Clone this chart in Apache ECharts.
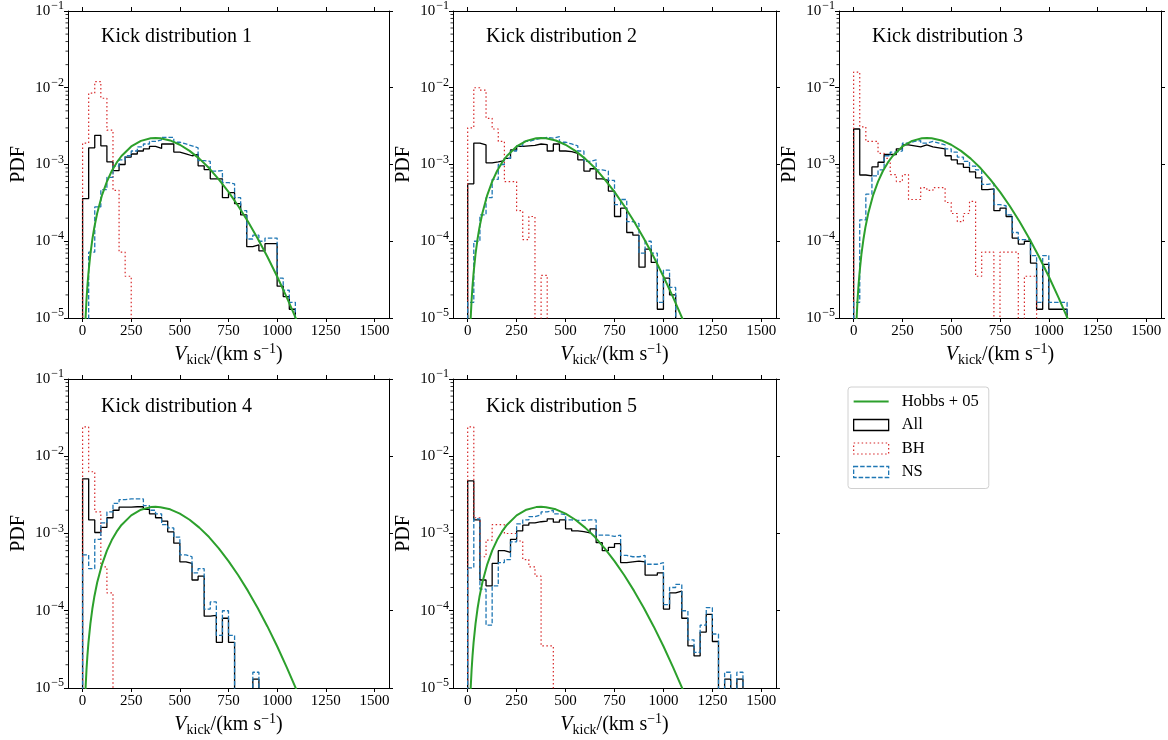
<!DOCTYPE html>
<html>
<head>
<meta charset="utf-8">
<script src="https://cdn.jsdelivr.net/npm/echarts@6/dist/echarts.min.js"></script>
<style>
  html, body { margin: 0; background: #fff; }
  #chart { width: 1168px; height: 740px; }
</style>
</head>
<body>
<div id="chart"></div>
<script>
// ---- data (histograms: PDF per 31.25 km/s bin, starting at 0) ----
const binWidth = 31.25;
const xTicks = [0, 250, 500, 750, 1000, 1250, 1500];
const titles = ['Kick distribution 1', 'Kick distribution 2', 'Kick distribution 3', 'Kick distribution 4', 'Kick distribution 5'];

const all1 = [3.6e-4, 1.65e-3, 2.4e-3, 1.75e-3, 1.08e-3, 8.3e-4, 1.0e-3, 1.25e-3, 1.37e-3, 1.5e-3, 1.6e-3, 1.72e-3, 1.62e-3, 1.85e-3, 1.85e-3, 1.45e-3, 1.38e-3, 1.3e-3, 1.35e-3, 9.6e-4, 8.6e-4, 6.5e-4, 6.5e-4, 3.7e-4, 4.3e-4, 3.1e-4, 2.2e-4, 8.5e-5, 9e-5, 7.5e-5, 9.3e-5, 9.3e-5, 2.6e-5, 1.9e-5, 1.3e-5];
const ns1 = [0, 7.2e-5, 2.8e-4, 4.7e-4, 6.8e-4, 9.5e-4, 1.15e-3, 1.3e-3, 1.5e-3, 1.7e-3, 1.85e-3, 2.0e-3, 2.1e-3, 2.25e-3, 2.25e-3, 1.95e-3, 1.85e-3, 1.75e-3, 1.65e-3, 1.12e-3, 1.1e-3, 8.2e-4, 8.3e-4, 5.8e-4, 5.6e-4, 3.7e-4, 2.5e-4, 1.07e-4, 1.2e-4, 1.0e-4, 1.1e-4, 1.1e-4, 3.3e-5, 2.3e-5, 1.6e-5];
const bh1 = [1.9e-3, 8.5e-3, 1.2e-2, 7.3e-3, 2.8e-3, 4.6e-4, 7.2e-5, 3.5e-5];

const all2 = [5.6e-4, 1.9e-3, 1.8e-3, 1.05e-3, 1.08e-3, 1.12e-3, 1.2e-3, 1.55e-3, 1.72e-3, 1.75e-3, 1.78e-3, 1.85e-3, 1.82e-3, 1.5e-3, 1.85e-3, 1.5e-3, 1.47e-3, 1.4e-3, 1.15e-3, 8.2e-4, 8.8e-4, 6.5e-4, 6.2e-4, 4.5e-4, 2.1e-4, 2.7e-4, 1.3e-4, 1.2e-4, 4.6e-5, 7.9e-5, 5.3e-5, 1.3e-5, 3.3e-5, 2.0e-5];
const ns2 = [1.6e-5, 1.0e-4, 2.2e-4, 3.7e-4, 6.4e-4, 1.0e-3, 1.2e-3, 1.5e-3, 1.75e-3, 2.0e-3, 2.1e-3, 2.2e-3, 2.25e-3, 2.2e-3, 2.3e-3, 1.95e-3, 1.85e-3, 1.75e-3, 1.5e-3, 1.1e-3, 1.15e-3, 8.5e-4, 8.2e-4, 6.2e-4, 3.0e-4, 3.5e-4, 1.8e-4, 1.7e-4, 7e-5, 1.0e-4, 7e-5, 1.6e-5, 4.2e-5, 2.5e-5];
const bh2 = [3.0e-3, 1.0e-2, 9.3e-3, 4.0e-3, 2.9e-3, 2.0e-3, 6.0e-4, 6.0e-4, 2.5e-4, 1.05e-4, 2.1e-4, 0, 3.6e-5];

const all3 = [2.9e-3, 7.3e-4, 7.1e-4, 9.3e-4, 1.07e-3, 1.35e-3, 1.35e-3, 1.6e-3, 1.8e-3, 1.75e-3, 1.7e-3, 1.8e-3, 1.7e-3, 1.65e-3, 1.6e-3, 1.3e-3, 1.15e-3, 1.02e-3, 9.2e-4, 8.0e-4, 6.7e-4, 4.7e-4, 4.8e-4, 2.5e-4, 2.7e-4, 2.1e-4, 1.1e-4, 9.2e-5, 1.0e-4, 5.2e-5, 1.3e-5, 5.0e-5, 1.3e-5, 1.3e-5, 1.3e-5];
const ns3 = [1.6e-5, 1.9e-4, 4.1e-4, 7.1e-4, 8.5e-4, 1.3e-3, 1.45e-3, 1.5e-3, 1.9e-3, 2.0e-3, 2.05e-3, 1.9e-3, 2.0e-3, 1.9e-3, 1.8e-3, 1.6e-3, 1.45e-3, 1.25e-3, 1.1e-3, 9.5e-4, 8.5e-4, 5.5e-4, 5.7e-4, 3.0e-4, 2.9e-4, 2.2e-4, 1.3e-4, 1.05e-4, 1.05e-4, 6.5e-5, 1.6e-5, 6.5e-5, 1.6e-5, 1.6e-5, 1.6e-5];
const bh3 = [1.6e-2, 3.1e-3, 2.0e-3, 2.0e-3, 1.4e-3, 1.2e-3, 7.4e-4, 6.0e-4, 7.4e-4, 3.5e-4, 3.5e-4, 5.0e-4, 4.6e-4, 5.0e-4, 5.0e-4, 3.2e-4, 2.3e-4, 1.8e-4, 2.3e-4, 3.3e-4, 3.5e-5, 7.2e-5, 7.2e-5, 0, 7.2e-5, 7.2e-5, 7.2e-5, 0, 3.5e-5, 3.5e-5];

const all4 = [5.1e-3, 1.5e-3, 1.03e-3, 1.2e-3, 1.6e-3, 2.0e-3, 2.2e-3, 2.2e-3, 2.22e-3, 2.22e-3, 2.05e-3, 1.8e-3, 1.6e-3, 1.45e-3, 1.05e-3, 7.5e-4, 4.3e-4, 4.1e-4, 2.5e-4, 2.8e-4, 8.5e-5, 8.7e-5, 3.9e-5, 8e-5, 3.9e-5, 0, 0, 0, 1.3e-5];
const ns4 = [5.3e-4, 3.5e-4, 8.4e-4, 1.37e-3, 1.9e-3, 2.45e-3, 2.75e-3, 2.8e-3, 2.8e-3, 2.8e-3, 2.3e-3, 2.0e-3, 1.8e-3, 1.3e-3, 1.18e-3, 9.0e-4, 5.3e-4, 5.0e-4, 3.1e-4, 3.5e-4, 1.05e-4, 1.3e-4, 4.8e-5, 1.0e-4, 4.8e-5, 0, 0, 0, 1.6e-5];
const bh4 = [2.4e-2, 6.3e-3, 1.9e-3, 3.7e-4, 1.7e-4];

const all5 = [4.8e-3, 1.5e-3, 2.5e-4, 2.1e-4, 4.1e-4, 6.0e-4, 5.7e-4, 8.4e-4, 1.08e-3, 1.28e-3, 1.37e-3, 1.42e-3, 1.45e-3, 1.55e-3, 1.4e-3, 1.5e-3, 1.15e-3, 1.08e-3, 1.06e-3, 1.02e-3, 1.15e-3, 7.6e-4, 6.0e-4, 6.6e-4, 7.4e-4, 4.2e-4, 4.3e-4, 4.4e-4, 4.3e-4, 2.9e-4, 2.9e-4, 3.1e-4, 1.05e-4, 1.7e-4, 1.8e-4, 8e-5, 3.5e-5, 2.6e-5, 5.3e-5, 9e-5, 4e-5, 0, 1.3e-5, 0, 1.3e-5];
const ns5 = [3.6e-4, 1.55e-3, 1.9e-4, 6.5e-5, 2.1e-4, 4.2e-4, 4.6e-4, 7.8e-4, 1.33e-3, 1.5e-3, 1.65e-3, 1.75e-3, 1.9e-3, 2.0e-3, 1.8e-3, 1.75e-3, 1.5e-3, 1.48e-3, 1.48e-3, 1.5e-3, 1.5e-3, 9.5e-4, 9.5e-4, 9.2e-4, 9.5e-4, 5.2e-4, 5.0e-4, 5.0e-4, 5.2e-4, 4.0e-4, 4.0e-4, 4.2e-4, 1.2e-4, 2.0e-4, 2.2e-4, 1.0e-4, 4.2e-5, 2.9e-5, 6.5e-5, 1.1e-4, 5.0e-5, 0, 1.6e-5, 0, 1.6e-5];
const bh5 = [2.4e-2, 1.6e-3, 5.0e-4, 8.2e-4, 1.3e-3, 1.3e-3, 1.0e-3, 1.0e-3, 8.0e-4, 4.6e-4, 3.7e-4, 2.8e-4, 3.5e-5, 3.5e-5];

// Hobbs+05 Maxwellian
const hobbsV = [15, 20, 25, 30, 40, 50, 60, 75, 100, 125, 150, 175, 200, 250, 300, 350, 375, 400, 450, 500, 550, 600, 650, 700, 750, 800, 850, 900, 950, 1000, 1050, 1100];
const hobbsPdf = [9.63e-6, 1.71e-5, 2.67e-5, 3.83e-5, 6.78e-5, 1.053e-4, 1.504e-4, 2.317e-4, 3.993e-4, 5.994e-4, 8.219e-4, 1.056e-3, 1.29e-3, 1.717e-3, 2.033e-3, 2.196e-3, 2.215e-3, 2.192e-3, 2.057e-3, 1.809e-3, 1.506e-3, 1.192e-3, 8.995e-4, 6.414e-4, 4.395e-4, 2.88e-4, 1.808e-4, 1.087e-4, 6.27e-5, 3.47e-5, 1.84e-5, 9.41e-6];

// ---- layout ----
const serif = 'Liberation Serif';
const floor = 1e-9; // empty bins -> far below the axis, clipped away
const xMin = -75, xMax = 1575;
const panels = [
  { all: all1, bh: bh1, ns: ns1 },
  { all: all2, bh: bh2, ns: ns2 },
  { all: all3, bh: bh3, ns: ns3 },
  { all: all4, bh: bh4, ns: ns4 },
  { all: all5, bh: bh5, ns: ns5 }
];
const grids = [
  { left: 68, top: 9, width: 321, height: 309 },
  { left: 453, top: 9, width: 323, height: 309 },
  { left: 839, top: 9, width: 322, height: 309 },
  { left: 68, top: 379, width: 321, height: 309 },
  { left: 453, top: 379, width: 323, height: 309 }
];

// minor ticks on the log axis (2..9 x 10^n)
const minorTicks = [];
for (let e = -5; e < -1; e++) {
  for (let k = 2; k <= 9; k++) minorTicks.push([xMin, k * Math.pow(10, e)]);
}

function stepData(vals) {
  const pts = [[0, floor]];
  vals.forEach((v, i) => pts.push([i * binWidth, v > 0 ? v : floor]));
  pts.push([vals.length * binWidth, floor]);
  return pts;
}

const axisLine = { show: true, onZero: false, lineStyle: { color: '#000', width: 1 } };
const tickStyle = { color: '#000', width: 1 };

const option = {
  backgroundColor: '#fff',
  animation: false,
  title: [],
  grid: [],
  xAxis: [],
  yAxis: [],
  series: [],
  legend: {
    orient: 'vertical',
    left: 848, top: 387,
    selectedMode: false,
    itemWidth: 35, itemHeight: 11, itemGap: 6.5,
    padding: [6, 10, 8, 5],
    borderColor: '#d0d0d0', borderWidth: 1, borderRadius: 3,
    formatter: name => '{t|' + name + '}',
    textStyle: {
      fontFamily: serif, fontSize: 16.5, color: '#000',
      rich: { t: { fontFamily: serif, fontSize: 16.5, color: '#000', lineHeight: 16, padding: [0, 0, 0, 8] } }
    },
    data: [
      { name: 'Hobbs + 05', icon: 'path://M0,0h35v2h-35z', itemStyle: { color: '#2ca02c' } },
      { name: 'All', icon: 'rect', itemStyle: { color: 'rgba(0,0,0,0)', borderColor: '#000', borderWidth: 1.3 } },
      { name: 'BH', icon: 'rect', itemStyle: { color: 'rgba(0,0,0,0)', borderColor: '#d62728', borderWidth: 1.2, borderType: [1.5, 2.5] } },
      { name: 'NS', icon: 'rect', itemStyle: { color: 'rgba(0,0,0,0)', borderColor: '#1f77b4', borderWidth: 1.3, borderType: [4.5, 2] } }
    ]
  }
};

panels.forEach((p, i) => {
  const g = grids[i];
  option.grid.push({ left: g.left, top: g.top, width: g.width, height: g.height, containLabel: false });
  option.title.push({
    text: titles[i], left: g.left + 33, top: g.top + 18, padding: 0,
    textStyle: { fontFamily: serif, fontSize: 20, fontWeight: 'normal', color: '#000' }
  });

  // bottom + top x axes
  option.xAxis.push({
    gridIndex: i, type: 'value', min: xMin, max: xMax, position: 'bottom',
    axisLine: axisLine,
    axisTick: { show: true, inside: false, length: 4, customValues: xTicks, lineStyle: tickStyle },
    axisLabel: { show: true, customValues: xTicks, margin: 6, fontFamily: serif, fontSize: 15, color: '#000', formatter: v => String(v) },
    splitLine: { show: false },
    name: '{v|V}{s|kick}{n|/(km s}{p|\u22121}{n|)}',
    nameLocation: 'middle', nameGap: 24,
    nameTextStyle: {
      fontFamily: serif, fontSize: 20, color: '#000',
      rich: {
        v: { fontFamily: serif, fontSize: 20, fontStyle: 'italic', color: '#000' },
        s: { fontFamily: serif, fontSize: 14, color: '#000', padding: [10, 0, 0, 0] },
        n: { fontFamily: serif, fontSize: 20, color: '#000' },
        p: { fontFamily: serif, fontSize: 14, color: '#000', padding: [0, 0, 12, 0] }
      }
    }
  });
  option.xAxis.push({
    gridIndex: i, type: 'value', min: xMin, max: xMax, position: 'top',
    axisLine: axisLine,
    axisTick: { show: true, inside: false, length: 4, customValues: xTicks, lineStyle: tickStyle },
    axisLabel: { show: false },
    splitLine: { show: false }
  });

  // left + right log y axes
  option.yAxis.push({
    gridIndex: i, type: 'log', logBase: 10, min: 1e-5, max: 1e-1, position: 'left',
    axisLine: axisLine,
    axisTick: { show: true, inside: false, length: 4, lineStyle: tickStyle },
    axisLabel: {
      margin: 4, fontSize: 15, fontFamily: serif, color: '#000',
      formatter: v => '{b|10}{e|\u2212' + Math.round(-Math.log10(v)) + '}',
      rich: {
        b: { fontFamily: serif, fontSize: 15, color: '#000' },
        e: { fontFamily: serif, fontSize: 12, color: '#000', padding: [0, 0, 10, 1] }
      }
    },
    splitLine: { show: false },
    name: 'PDF', nameLocation: 'middle', nameGap: 39, nameRotate: 90,
    nameTextStyle: { fontFamily: serif, fontSize: 20, color: '#000' }
  });
  option.yAxis.push({
    gridIndex: i, type: 'log', logBase: 10, min: 1e-5, max: 1e-1, position: 'right',
    axisLine: axisLine,
    axisTick: { show: true, inside: false, length: 4, lineStyle: tickStyle },
    axisLabel: { show: false },
    splitLine: { show: false }
  });

  const xi = 2 * i, yi = 2 * i;
  option.series.push({
    name: 'All', type: 'line', xAxisIndex: xi, yAxisIndex: yi, step: 'end', symbol: 'none', clip: true,
    data: stepData(p.all), itemStyle: { color: '#000' }, lineStyle: { color: '#000', width: 1.3 }, z: 3
  });
  option.series.push({
    name: 'BH', type: 'line', xAxisIndex: xi, yAxisIndex: yi, step: 'end', symbol: 'none', clip: true,
    data: stepData(p.bh), itemStyle: { color: '#d62728' }, lineStyle: { color: '#d62728', width: 1.2, type: [1.5, 2.5] }, z: 3
  });
  option.series.push({
    name: 'NS', type: 'line', xAxisIndex: xi, yAxisIndex: yi, step: 'end', symbol: 'none', clip: true,
    data: stepData(p.ns), itemStyle: { color: '#1f77b4' }, lineStyle: { color: '#1f77b4', width: 1.3, type: [4.5, 2] }, z: 3
  });
  option.series.push({
    name: 'Hobbs + 05', type: 'line', xAxisIndex: xi, yAxisIndex: yi, symbol: 'none', clip: true,
    data: hobbsV.map((v, k) => [v, hobbsPdf[k]]),
    itemStyle: { color: '#2ca02c' }, lineStyle: { color: '#2ca02c', width: 2 }, z: 4
  });
  option.series.push({
    type: 'custom', xAxisIndex: xi, yAxisIndex: yi, silent: true, clip: false,
    data: minorTicks,
    renderItem: (params, api) => {
      const pt = api.coord([api.value(0), api.value(1)]);
      return {
        type: 'line',
        shape: { x1: pt[0] - 2.5, y1: pt[1], x2: pt[0], y2: pt[1] },
        style: { stroke: '#000', lineWidth: 0.8 }
      };
    }
  });
});

const chart = echarts.init(document.getElementById('chart'), null, { renderer: 'canvas' });
chart.setOption(option);
</script>
</body>
</html>
